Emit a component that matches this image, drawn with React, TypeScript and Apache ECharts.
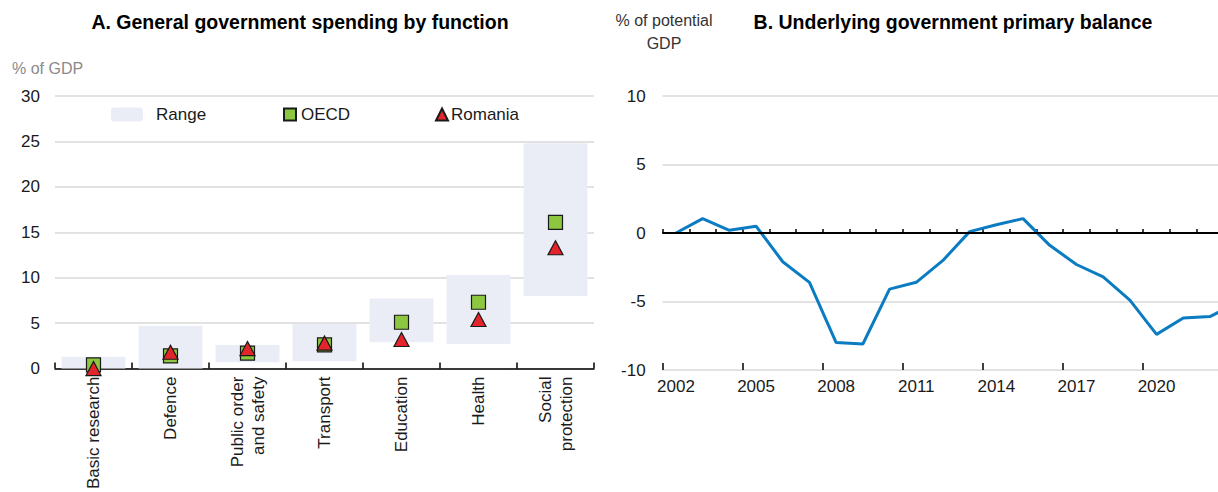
import React, { useEffect, useRef } from "react";
import * as echarts from "echarts";

const FONT = "'Liberation Sans', Arial, sans-serif";

const categories = [
  "Basic research",
  "Defence",
  "Public order\nand safety",
  "Transport",
  "Education",
  "Health",
  "Social\nprotection",
];
const rangeMin = [0, 0, 0.7, 0.8, 2.9, 2.7, 8.0];
const rangeMax = [1.3, 4.7, 2.6, 4.9, 7.7, 10.3, 24.8];
const oecd = [0.4, 1.4, 1.7, 2.6, 5.1, 7.3, 16.1];
const romania = [0.0, 1.8, 2.2, 2.8, 3.2, 5.4, 13.3];

const years = [
  "2002", "2003", "2004", "2005", "2006", "2007", "2008", "2009", "2010", "2011", "2012",
  "2013", "2014", "2015", "2016", "2017", "2018", "2019", "2020", "2021", "2022", "2023",
];
const yearLabels = ["2002", "2005", "2008", "2011", "2014", "2017", "2020"];
const balance = [
  0.0, 1.05, 0.2, 0.5, -2.1, -3.6, -8.0, -8.1, -4.1, -3.6, -2.0,
  0.1, 0.6, 1.05, -0.9, -2.3, -3.2, -4.9, -7.4, -6.2, -6.1, -5.1,
];

const TXT = "#1a1a1a";
const GRID = "#d9d9d9";
const CHART_W = 1262;

export default function App() {
  const ref = useRef<HTMLDivElement>(null);
  useEffect(() => {
    const chart = echarts.init(ref.current!, null, { renderer: "svg" });
    const rangeSpan = rangeMax.map((v, i) => +(v - rangeMin[i]).toFixed(2));
    const option: any = {
      animation: false,
      textStyle: { fontFamily: FONT },
      grid: [
        { left: 55, right: CHART_W - 594, top: 96, bottom: 122 },
        { left: 662.6, right: CHART_W - 1250, top: 96, bottom: 122 },
      ],
      graphic: [
        {
          type: "text",
          x: 300,
          y: 22,
          style: {
            text: "A. General government spending by function",
            font: `bold 19.5px ${FONT}`,
            fill: "#000",
            textAlign: "center",
            textVerticalAlign: "middle",
          },
        },
        {
          type: "text",
          x: 953,
          y: 22,
          style: {
            text: "B. Underlying government primary balance",
            font: `bold 19.5px ${FONT}`,
            fill: "#000",
            textAlign: "center",
            textVerticalAlign: "middle",
          },
        },
        {
          type: "text",
          x: 12,
          y: 68,
          style: {
            text: "% of GDP",
            font: `16px ${FONT}`,
            fill: "#8a8a8a",
            textAlign: "left",
            textVerticalAlign: "middle",
          },
        },
        {
          type: "text",
          x: 664,
          y: 32,
          style: {
            text: "% of potential\nGDP",
            font: `16px ${FONT}`,
            fill: "#333",
            textAlign: "center",
            textVerticalAlign: "middle",
            lineHeight: 23,
          },
        },
      ],
      legend: [
        {
          data: ["Range"],
          left: 111,
          top: 106,
          padding: 0,
          itemWidth: 32,
          itemHeight: 14,
          textStyle: { fontSize: 17, color: TXT, padding: [0, 0, 0, 8], fontFamily: FONT },
          selectedMode: false,
        },
        {
          data: ["OECD"],
          left: 283,
          top: 106,
          padding: 0,
          itemWidth: 12,
          itemHeight: 12,
          textStyle: { fontSize: 17, color: TXT, padding: [0, 0, 0, 0], fontFamily: FONT },
          selectedMode: false,
        },
        {
          data: ["Romania"],
          left: 435,
          top: 106,
          padding: 0,
          itemWidth: 12,
          itemHeight: 12,
          textStyle: { fontSize: 17, color: TXT, padding: [0, 0, 0, -2], fontFamily: FONT },
          selectedMode: false,
        },
      ],
      xAxis: [
        {
          type: "category",
          gridIndex: 0,
          data: categories,
          axisLine: { lineStyle: { color: "#000", width: 1.5 } },
          axisTick: { show: true, inside: true, length: 6, lineStyle: { color: "#000", width: 1.5 } },
          axisLabel: {
            rotate: 90,
            interval: 0,
            fontSize: 17,
            color: TXT,
            margin: 8,
            lineHeight: 21,
            fontFamily: FONT,
          },
        },
        {
          type: "category",
          gridIndex: 1,
          data: years,
          axisLine: { lineStyle: { color: "#000", width: 1.5 } },
          axisTick: { show: true, inside: true, interval: 0, length: 4, lineStyle: { color: "#000", width: 1.5 } },
          axisLabel: {
            interval: (_i: number, v: string) => yearLabels.indexOf(v) >= 0,
            fontSize: 17,
            color: TXT,
            margin: 8,
            fontFamily: FONT,
          },
        },
        {
          type: "category",
          gridIndex: 1,
          data: years,
          position: "bottom",
          axisLine: { show: false },
          axisTick: { show: true, inside: true, interval: 2, length: 7, lineStyle: { color: "#000", width: 1.5 } },
          axisLabel: { show: false },
        },
      ],
      yAxis: [
        {
          type: "value",
          gridIndex: 0,
          min: 0,
          max: 30,
          interval: 5,
          axisLine: { show: false },
          axisTick: { show: false },
          axisLabel: { fontSize: 17, color: TXT, margin: 15, fontFamily: FONT },
          splitLine: { lineStyle: { color: GRID, width: 1.5 } },
        },
        {
          type: "value",
          gridIndex: 1,
          min: -10,
          max: 10,
          interval: 5,
          axisLine: { show: false },
          axisTick: { show: false },
          axisLabel: { fontSize: 17, color: TXT, margin: 17, fontFamily: FONT },
          splitLine: { lineStyle: { color: GRID, width: 1.5 } },
        },
      ],
      series: [
        {
          name: "_base",
          type: "bar",
          xAxisIndex: 0,
          yAxisIndex: 0,
          stack: "range",
          data: rangeMin,
          barWidth: "83%",
          itemStyle: { color: "transparent" },
          silent: true,
        },
        {
          name: "Range",
          type: "bar",
          xAxisIndex: 0,
          yAxisIndex: 0,
          stack: "range",
          data: rangeSpan,
          barWidth: "83%",
          itemStyle: { color: "#eaedf6" },
        },
        {
          name: "OECD",
          type: "scatter",
          xAxisIndex: 0,
          yAxisIndex: 0,
          data: oecd,
          symbol: "rect",
          symbolSize: 14,
          itemStyle: { color: "#8dc63f", borderColor: "#1a1a1a", borderWidth: 1.2, opacity: 1 },
          z: 3,
        },
        {
          name: "Romania",
          type: "scatter",
          xAxisIndex: 0,
          yAxisIndex: 0,
          data: romania,
          symbol: "triangle",
          symbolSize: [15, 14],
          itemStyle: { color: "#e3242b", borderColor: "#1a1a1a", borderWidth: 1.2, opacity: 1 },
          z: 4,
        },
        {
          name: "balance",
          type: "line",
          xAxisIndex: 1,
          yAxisIndex: 1,
          data: balance,
          symbol: "none",
          lineStyle: { color: "#0b7cc1", width: 3 },
          markLine: {
            silent: true,
            symbol: "none",
            label: { show: false },
            lineStyle: { color: "#000", width: 2, type: "solid" },
            data: [{ yAxis: 0 }],
          },
          z: 3,
        },
      ],
    };
    chart.setOption(option);
    return () => chart.dispose();
  }, []);
  return (
    <div
      style={{
        position: "absolute",
        left: 0,
        top: 0,
        width: 1218,
        height: 492,
        overflow: "hidden",
        background: "#fff",
      }}
    >
      <div ref={ref} style={{ width: CHART_W, height: 492 }} />
    </div>
  );
}
